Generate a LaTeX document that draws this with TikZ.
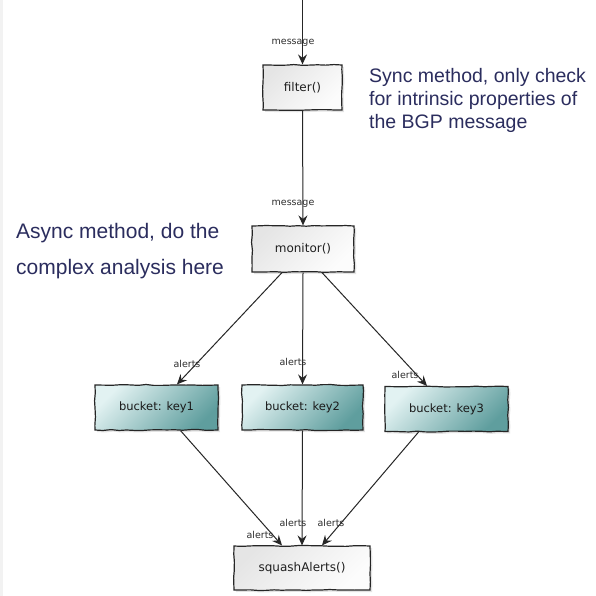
\documentclass[tikz,border=0pt]{standalone}
\usepackage{fontspec}
\setmainfont{Liberation Sans}
\newfontfamily\handfont{DejaVu Sans}
\usetikzlibrary{arrows.meta,shadows,decorations.pathmorphing}
\definecolor{notecol}{HTML}{2B2D5E}
\definecolor{inkcol}{HTML}{262626}
\definecolor{tealhi}{HTML}{E2F2F2}
\definecolor{teallo}{HTML}{5F9E9E}
\begin{document}
\begin{tikzpicture}[x=1pt,y=-1pt,
  sketch/.style={draw=inkcol, line width=1.2pt, inner sep=0pt,
    decorate, decoration={random steps, segment length=8pt, amplitude=0.5pt},
    drop shadow={opacity=0.22, shadow xshift=2pt, shadow yshift=-2pt}},
  plainbox/.style={sketch, top color=gray!20, bottom color=gray!2, shading angle=45,
    minimum height=45pt, text=black!88, font=\handfont\fontsize{12}{14}\selectfont},
  bucketbox/.style={sketch, top color=tealhi, bottom color=teallo, shading angle=45,
    minimum height=45pt, text=black!90, font=\handfont\fontsize{11.5}{13}\selectfont},
  conn/.style={draw=inkcol, line width=1pt, -{Stealth[length=10pt,width=9pt,inset=3.5pt]}},
  lbl/.style={inner sep=0pt, text=black!82, font=\handfont\fontsize{9.5}{11}\selectfont},
  note/.style={inner sep=0pt, anchor=base west, text=notecol}]
\pgfmathsetseed{11}
\fill[white] (0,0) rectangle (596,596);
\fill[gray!10] (0,0) rectangle (3,596);
\useasboundingbox (0,0) rectangle (596,596);

% processing boxes
\node[plainbox, minimum width=79pt] (filter) at (302.5,87.5) {filter()};
\node[plainbox, minimum width=102pt, minimum height=46pt] (monitor) at (303,249) {monitor()};
\node[bucketbox, minimum width=123pt] (b1) at (156.5,407.5) {bucket: key1};
\node[bucketbox, minimum width=121pt] (b2) at (302.5,407.5) {bucket: key2};
\node[bucketbox, minimum width=123pt] (b3) at (446.5,409) {bucket: key3};
\node[plainbox, minimum width=136pt, minimum height=44pt] (squash) at (302,568) {squashAlerts()};
\coordinate (in) at (302.5,0);

% message flow
\draw[conn] (in) -- (filter.north);
\draw[conn] (filter.south) -- (monitor.north);
\draw[conn] ([xshift=-21pt]monitor.south) -- ([xshift=20.5pt]b1.north);
\draw[conn] (monitor.south) -- (b2.north);
\draw[conn] ([xshift=19pt]monitor.south) -- ([xshift=-19.5pt]b3.north);
\draw[conn] ([xshift=24pt]b1.south) -- ([xshift=-20pt]squash.north);
\draw[conn] (b2.south) -- (squash.north);
\draw[conn] ([xshift=-28pt]b3.south) -- ([xshift=20pt]squash.north);

% edge labels
\node[lbl] (m1) at (293,43) {message};
\node[lbl] (m2) at (293,204) {message};
\node[lbl] (a1) at (187,364) {alerts};
\node[lbl] (a2) at (293,362) {alerts};
\node[lbl] (a3) at (405,375) {alerts};
\node[lbl] (a4) at (260,535) {alerts};
\node[lbl] (a5) at (293,523) {alerts};
\node[lbl] (a6) at (331,523) {alerts};

% annotations
\begin{scope}[font=\fontsize{19.5}{22}\selectfont]
\node[note] (s1) at (369,83) {Sync method, only check};
\node[note] (s2) at (369,106) {for intrinsic properties of};
\node[note] (s3) at (369,129) {the BGP message};
\end{scope}
\begin{scope}[font=\fontsize{21}{24}\selectfont]
\node[note] (n1) at (16,238) {Async method, do the};
\node[note] (n2) at (16,274) {complex analysis here};
\end{scope}
\end{tikzpicture}
\end{document}
